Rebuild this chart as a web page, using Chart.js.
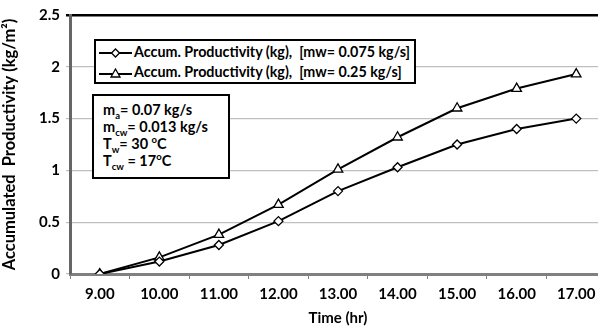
<!DOCTYPE html>
<html><head><meta charset="utf-8">
<script src="https://cdn.jsdelivr.net/npm/chart.js@4"></script>
<style>
html,body{margin:0;padding:0;background:#fff;overflow:hidden;width:598px;height:327px;}
#wrap{position:absolute;left:0;top:0;width:620px;height:327px;}
.box{position:absolute;border:2px solid #000;background:#fff;font-family:Lato,"Open Sans",sans-serif;font-weight:bold;color:#000;box-sizing:border-box;}
#legend{left:94px;top:39px;width:322px;height:45px;font-size:14.3px;}
#legend .row{position:absolute;left:2px;height:20px;line-height:20px;white-space:pre;}
#legend svg{vertical-align:middle;margin-right:1px;}
#info{left:92px;top:94px;width:138px;height:85px;font-size:14.5px;padding:5px 0 0 9px;line-height:17px;}
sub,sup{font-size:9.5px;line-height:0;}
</style></head>
<body>
<div id="wrap"><canvas id="c" width="620" height="327"></canvas></div>
<div id="legend" class="box">
  <div class="row" style="top:1px"><svg width="35" height="12"><line x1="1" y1="6" x2="34" y2="6" stroke="#000" stroke-width="2"/><polygon points="17.5,2 21.5,6 17.5,10 13.5,6" fill="#fff" stroke="#000" stroke-width="1.3"/></svg><span id="l0"></span></div>
  <div class="row" style="top:21px"><svg width="35" height="12"><line x1="1" y1="7" x2="34" y2="7" stroke="#000" stroke-width="2"/><polygon points="17.5,2 22,10 13,10" fill="#fff" stroke="#000" stroke-width="1.3"/></svg><span id="l1"></span></div>
</div>
<div id="info" class="box">m<sub>a</sub>= 0.07 kg/s<br>m<sub>cw</sub>= 0.013 kg/s<br>T<sub>w</sub>= 30 <sup>o</sup>C<br>T<sub>cw</sub> = 17<sup>o</sup>C</div>
<script>
const categories = ["9.00","10.00","11.00","12.00","13.00","14.00","15.00","16.00","17.00"];
const series1Label = "Accum. Productivity (kg),  [mw= 0.075 kg/s]";
const series2Label = "Accum. Productivity (kg),  [mw= 0.25 kg/s]";
const series1 = [0, 0.12, 0.28, 0.51, 0.80, 1.03, 1.25, 1.40, 1.50];
const series2 = [0, 0.16, 0.38, 0.67, 1.01, 1.32, 1.60, 1.79, 1.93];
const yTicks = [0, 0.5, 1, 1.5, 2, 2.5];
const yTickLabels = ["0", "0.5", "1", "1.5", "2", "2.5"];

document.getElementById('l0').textContent = series1Label;
document.getElementById('l1').textContent = series2Label;

const font = {family: "Lato, 'Open Sans', sans-serif", weight: 'bold', size: 15};
new Chart(document.getElementById('c'), {
  type: 'line',
  data: {
    labels: categories,
    datasets: [
      {label: series1Label, data: series1, borderColor:'#000', borderWidth:2, tension:0,
       pointStyle:'rectRot', pointRadius:4.5, pointBackgroundColor:'#fff', pointBorderColor:'#000', pointBorderWidth:1.3},
      {label: series2Label, data: series2, borderColor:'#000', borderWidth:2, tension:0,
       pointStyle:'triangle', pointRadius:5.5, pointBackgroundColor:'#fff', pointBorderColor:'#000', pointBorderWidth:1.3}
    ]
  },
  options: {
    responsive:false, animation:false, events:[],
    layout:{padding:{left:0, top:13, right:14, bottom:0}},
    plugins:{legend:{display:false}, tooltip:{enabled:false}},
    scales:{
      x:{
        offset:true,
        grid:{offset:true, drawOnChartArea:false, drawTicks:true, tickLength:5, color:'#808080', lineWidth:1},
        border:{color:'#808080', width:3},
        ticks:{color:'#000', font:font, padding:6, maxRotation:0, autoSkip:false},
        title:{display:true, text:'Time (hr)', color:'#000', font:font, padding:{top:1,bottom:0}},
        afterFit(s){ s.height = 53; }
      },
      y:{
        min:0, max:2.5,
        afterBuildTicks(s){ s.ticks = yTicks.map(v=>({value:v})); },
        grid:{
          color:(ctx)=> ctx.tick && ctx.tick.value===2.5 ? '#000' : '#bfbfbf',
          lineWidth:(ctx)=> ctx.tick && ctx.tick.value===2.5 ? 2.5 : 1.2,
          tickLength:4, drawTicks:true
        },
        border:{color:'#666', width:3},
        ticks:{color:'#000', font:font, padding:6,
          callback:(v)=>{ const i = yTicks.indexOf(v); return i>=0 ? yTickLabels[i] : ''; }},
        title:{display:true, text:'Accumulated  Productivity (kg/m²)', color:'#000',
          font:{family: font.family, weight:'bold', size:16.5}, padding:{top:0,bottom:4}},
        afterFit(s){ s.width = 70; }
      }
    }
  }
});
</script>
</body></html>
